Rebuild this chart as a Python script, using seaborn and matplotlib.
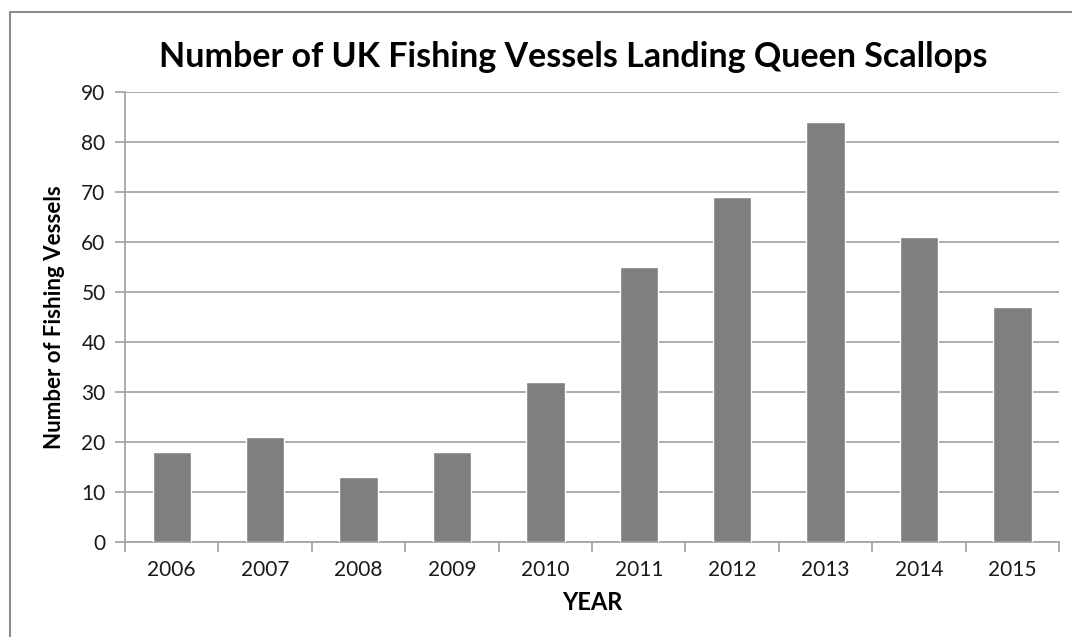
import numpy as np
import pandas as pd
import matplotlib
matplotlib.use("Agg")
import matplotlib.pyplot as plt
from matplotlib.patches import Rectangle
from matplotlib.ticker import FixedLocator
import seaborn as sns

years = ["2006", "2007", "2008", "2009", "2010", "2011", "2012", "2013", "2014", "2015"]
vessels = [18, 21, 13, 18, 32, 55, 69, 84, 61, 47]

df = pd.DataFrame({"year": years, "vessels": vessels})

sns.set_style("white")
plt.rcParams["font.family"] = ["Lato", "DejaVu Sans"]

fig = plt.figure(figsize=(10.72, 6.37), dpi=100)
ax = fig.add_axes([0.1166, 0.1491, 0.8714, 0.7065])

sns.barplot(data=df, x="year", y="vessels", color="#7f7f7f", saturation=1,
            width=0.41, ax=ax, zorder=3)

ax.set_ylim(0, 90)
ax.set_xlim(-0.5, len(years) - 0.5)
ax.set_yticks(np.arange(0, 91, 10))
ax.yaxis.grid(True, color="#a6a6a6", linewidth=1.3, zorder=0)
ax.set_axisbelow(True)

for s in ["top", "right"]:
    ax.spines[s].set_visible(False)
for s in ["left", "bottom"]:
    ax.spines[s].set_color("#a6a6a6")
    ax.spines[s].set_linewidth(1.3)

# y ticks outward, x ticks sit between categories
ax.tick_params(axis="y", which="major", direction="out", length=7, width=1.3,
               color="#a6a6a6", labelsize=15, labelcolor="#1a1a1a", pad=7, left=True)
ax.tick_params(axis="x", which="major", length=0, labelsize=15, labelcolor="#1a1a1a", pad=13)
ax.xaxis.set_minor_locator(FixedLocator(np.arange(-0.5, len(years), 1.0)))
ax.tick_params(axis="x", which="minor", direction="out", length=7, width=1.3,
               color="#a6a6a6", bottom=True)

ax.set_xlabel("YEAR", fontsize=17, fontweight="bold", labelpad=8, color="black")
ax.set_ylabel("Number of Fishing Vessels", fontsize=16, fontweight="bold",
              labelpad=12, color="black")
fig.text(0.535, 0.91, "Number of UK Fishing Vessels Landing Queen Scallops",
         ha="center", va="center", fontsize=24.5, fontweight="bold", color="black")

# outer chart frame
fig.patches.append(Rectangle((10 / 1072, -0.05), 1.1, 0.05 + (637 - 12) / 637,
                             transform=fig.transFigure, fill=False,
                             edgecolor="#8c8c8c", linewidth=1.5))

fig.savefig("out.png", dpi=100)
